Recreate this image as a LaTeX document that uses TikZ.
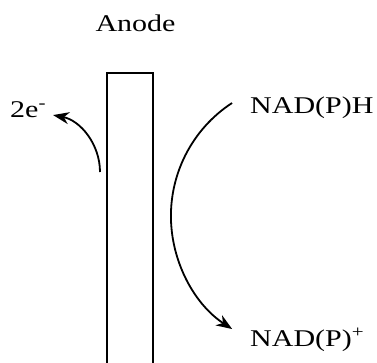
\documentclass[tikz,border=0pt]{standalone}
\usepackage{fontspec}
\setmainfont{Liberation Serif}
\usetikzlibrary{arrows.meta}
\newcommand{\wide}[1]{\scalebox{1.25}[1]{#1}}
\begin{document}
\begin{tikzpicture}[x=1pt,y=1pt,
  lbl/.style={inner sep=0pt,font=\fontsize{24}{28}\selectfont},
  flow/.style={line width=1.8pt,-{Stealth[length=16pt,width=12pt,inset=5pt]}}]
\useasboundingbox (0,0) rectangle (377,362);
\node[lbl,anchor=base] (anode) at (135.5,330.3) {\wide{Anode}};
\draw[line width=1.8pt] (107.3,-5) -- (107.3,288.7) -- (152.7,288.7) -- (152.7,-5);
\node[lbl,anchor=base west] (e2) at (10,244) {\wide{2e\textsuperscript{-}}};
\node[lbl,anchor=base west] (nadph) at (250,248.7) {\wide{NAD(P)H}};
\node[lbl,anchor=base west] (nadp) at (250,15.5) {\wide{NAD(P)\textsuperscript{+}}};
\coordinate (s1) at (100,190);
\coordinate (s2) at (232,259);
\draw[flow] (s1) arc[start angle=0,end angle=79,radius=58];
\draw[flow] (s2) arc[start angle=123.2,end angle=236.9,radius=135];
\end{tikzpicture}
\end{document}
